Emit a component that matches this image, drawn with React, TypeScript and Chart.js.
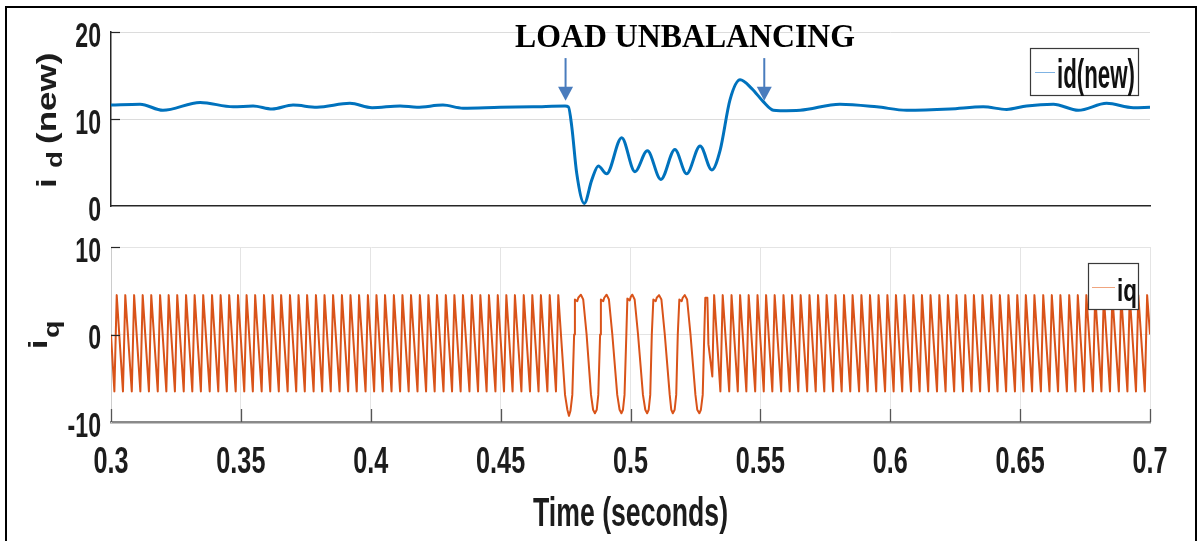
import React, { useEffect, useRef } from 'react';
import { Chart, registerables } from 'chart.js';

Chart.register(...registerables);

// ---- axes ----
const T_MIN = 0.3;
const T_MAX = 0.7;
const xTickValues = [0.3, 0.35, 0.4, 0.45, 0.5, 0.55, 0.6, 0.65, 0.7];
const xTickLabels = ['0.3', '0.35', '0.4', '0.45', '0.5', '0.55', '0.6', '0.65', '0.7'];
const idTickValues = [0, 10, 20];
const idTickLabels = ['0', '10', '20'];
const iqTickValues = [-10, 0, 10];
const iqTickLabels = ['-10', '0', '10'];

// ---- d-axis current (time in ms, current in A) ----
const idTimeMs = [300.0, 311.2, 320.0, 334.3, 347.0, 354.7, 362.0, 370.1, 379.3, 392.0, 400.5, 411.3, 417.8, 427.8,
  435.5, 449.8, 462.5, 474.8, 476.1, 477.4, 479.3, 482.2, 485.1, 487.6, 490.8, 496.6, 501.7, 506.5, 511.7, 517.1,
  521.6, 526.8, 531.3, 534.5, 538.3, 542.2, 546.7, 551.1, 555.0, 557.6, 565.3, 580.6, 594.8, 606.3, 623.0, 635.8,
  644.8, 652.5, 662.8, 672.4, 683.3, 693.6, 700.0];
const idValues = [11.6, 11.7, 11.0, 11.9, 11.4, 11.5, 11.15, 11.6, 11.35, 11.8, 11.3, 11.5, 11.35, 11.6,
  11.25, 11.35, 11.4, 11.5, 11.4, 9.1, 3.75, 0.3, 3.0, 4.6, 3.7, 7.85, 3.95, 6.35, 3.05, 6.5,
  3.7, 6.9, 4.15, 6.4, 12.2, 14.5, 13.5, 12.0, 11.0, 10.95, 11.0, 11.7, 11.4, 11.0, 11.15, 11.4,
  11.1, 11.5, 11.7, 11.0, 11.8, 11.3, 11.35];

// ---- q-axis current ----
const IQ_START = 0;
const IQ_END = 0;
const IQ_CREST = 4.5;
const IQ_VALLEY = -6.5;

// balanced operation before the event
const iqCrestMsBefore = [302.2, 305.5, 308.9, 312.2, 315.5, 318.9, 322.2, 325.5, 328.9, 332.2, 335.5, 338.9, 342.2,
  345.5, 348.9, 352.2, 355.5, 358.9, 362.2, 365.5, 368.9, 372.2, 375.5, 378.9, 382.2, 385.5, 388.9, 392.2, 395.5,
  398.9, 402.2, 405.5, 408.9, 412.2, 415.5, 418.9, 422.2, 425.5, 428.9, 432.2, 435.5, 438.9, 442.2, 445.5, 448.9,
  452.2, 455.5, 458.9, 462.2, 465.5, 468.9, 472.2];
const iqValleyMsBefore = [301.3, 304.6, 308.0, 311.3, 314.6, 318.0, 321.3, 324.6, 328.0, 331.3, 334.6, 338.0, 341.3,
  344.6, 348.0, 351.3, 354.6, 358.0, 361.3, 364.6, 368.0, 371.3, 374.6, 378.0, 381.3, 384.6, 388.0, 391.3, 394.6,
  398.0, 401.3, 404.6, 408.0, 411.3, 414.6, 418.0, 421.3, 424.6, 428.0, 431.3, 434.6, 438.0, 441.3, 444.6, 448.0,
  451.3, 454.6, 458.0, 461.3, 464.6, 468.0, 471.3];

// unbalanced load interval
const iqUnbalancedMs = [
  474.8, 475.7, 476.3, 476.9, 477.6, 478.3, 478.6, 479.5, 479.9, 480.9, 481.8, 483.1,
  484.8, 485.6, 486.3, 487.0, 487.6, 488.3, 488.6, 489.5, 489.9, 490.8, 491.7, 493.0,
  494.9, 495.8, 496.5, 497.1, 497.7, 498.4, 498.8, 499.7, 500.1, 500.7, 501.6, 502.9,
  504.8, 505.7, 506.4, 507.0, 507.6, 508.2, 508.8, 509.7, 510.1, 511.0, 511.9, 513.2,
  515.1, 515.7, 516.3, 517.0, 517.6, 518.2, 518.8, 519.7, 520.1, 520.9, 521.8, 523.1,
  525.0, 525.7, 526.5, 527.1, 527.8, 528.4, 528.8, 529.6, 530.0, 531.5];
const iqUnbalancedValues = [
  -6.9, -8.6, -9.3, -8.7, -6.9, 0.0, 4.0, 3.8, 4.2, 4.55, 4.0, 0.0,
  -6.9, -8.6, -9.0, -8.6, -6.9, 0.0, 4.0, 3.8, 4.2, 4.55, 4.0, 0.0,
  -6.9, -8.6, -9.0, -8.6, -6.9, 0.0, 4.1, 3.9, 4.3, 4.55, 4.0, 0.0,
  -6.9, -8.6, -9.0, -8.6, -6.9, 0.0, 4.0, 3.8, 4.2, 4.5, 4.0, 0.0,
  -6.9, -8.6, -9.0, -8.6, -6.9, 0.0, 4.0, 3.8, 4.2, 4.5, 4.0, 0.0,
  -6.9, -8.6, -9.0, -8.6, -6.9, 0.0, 4.2, 4.2, -1.1, -4.8];

// balanced operation after the event
const iqCrestMsAfter = [532.2, 535.5, 538.9, 542.2, 545.5, 548.9, 552.2, 555.5, 558.9, 562.2, 565.5, 568.9, 572.2,
  575.5, 578.9, 582.2, 585.5, 588.9, 592.2, 595.5, 598.9, 602.2, 605.5, 608.9, 612.2, 615.5, 618.9, 622.2, 625.5,
  628.9, 632.2, 635.5, 638.9, 642.2, 645.5, 648.9, 652.2, 655.5, 658.9, 662.2, 665.5, 668.9, 672.2, 675.5, 678.9,
  682.2, 685.5, 688.9, 692.2, 695.5, 698.9];
const iqValleyMsAfter = [534.6, 538.0, 541.3, 544.6, 548.0, 551.3, 554.6, 558.0, 561.3, 564.6, 568.0, 571.3, 574.6,
  578.0, 581.3, 584.6, 588.0, 591.3, 594.6, 598.0, 601.3, 604.6, 608.0, 611.3, 614.6, 618.0, 621.3, 624.6, 628.0,
  631.3, 634.6, 638.0, 641.3, 644.6, 648.0, 651.3, 654.6, 658.0, 661.3, 664.6, 668.0, 671.3, 674.6, 678.0, 681.3,
  684.6, 688.0, 691.3, 694.6, 698.0];

// ---- annotation ----
const EVENT_LABEL = 'LOAD UNBALANCING';
const EVENT_LABEL_T = 0.521;
const EVENT_LABEL_Y = 18.3;
const eventArrowT = [0.475, 0.5515];
const EVENT_ARROW_TOP = 17.0;
const EVENT_ARROW_TIP = 12.1;

// ---- style ----
const BLUE = '#0072BD';
const ORANGE = '#D95319';
const INK = '#1c1c1c';
const SANS = '"Liberation Sans", Arial, Helvetica, sans-serif';
const SERIF = '"Liberation Serif", "Times New Roman", serif';

type Pt = { x: number; y: number };

function msToS(ms: number) {
  return ms / 1000;
}

function steadyRipple(crests: number[], valleys: number[]): Pt[] {
  const pts: Pt[] = [
    ...crests.map((t) => ({ x: msToS(t), y: IQ_CREST })),
    ...valleys.map((t) => ({ x: msToS(t), y: IQ_VALLEY })),
  ];
  return pts.sort((a, b) => a.x - b.x);
}

function buildIq(): Pt[] {
  const pts: Pt[] = [{ x: T_MIN, y: IQ_START }];
  pts.push(...steadyRipple(iqCrestMsBefore, iqValleyMsBefore));
  iqUnbalancedMs.forEach((t, i) => pts.push({ x: msToS(t), y: iqUnbalancedValues[i] }));
  pts.push(...steadyRipple(iqCrestMsAfter, iqValleyMsAfter));
  pts.push({ x: T_MAX, y: IQ_END });
  return pts;
}

function buildId(): Pt[] {
  return idTimeMs.map((t, i) => ({ x: msToS(t), y: idValues[i] }));
}

function squeezed(ctx: CanvasRenderingContext2D, text: string, x: number, y: number, font: string, sx: number,
  align: CanvasTextAlign, color = INK) {
  ctx.save();
  ctx.font = font;
  ctx.fillStyle = color;
  ctx.textAlign = align;
  ctx.textBaseline = 'alphabetic';
  ctx.translate(x, y);
  ctx.scale(sx, 1);
  ctx.fillText(text, 0, 0);
  ctx.restore();
}

function fitScale(ctx: CanvasRenderingContext2D, text: string, font: string, width: number) {
  ctx.save();
  ctx.font = font;
  const w = ctx.measureText(text).width;
  ctx.restore();
  return w > 0 ? width / w : 1;
}

// rotated (bottom-to-top) text piece
function upright(ctx: CanvasRenderingContext2D, text: string, baseX: number, startY: number, size: number, stretch: number) {
  ctx.save();
  ctx.translate(baseX, startY);
  ctx.rotate(-Math.PI / 2);
  ctx.scale(stretch, 1);
  ctx.font = `bold ${size}px ${SANS}`;
  ctx.fillStyle = INK;
  ctx.textAlign = 'left';
  ctx.textBaseline = 'alphabetic';
  ctx.fillText(text, 0, 0);
  ctx.restore();
}

function yTickMarks(ctx: CanvasRenderingContext2D, chart: any, values: number[]) {
  const y = chart.scales.y;
  const left = chart.chartArea.left;
  ctx.save();
  ctx.strokeStyle = '#262626';
  ctx.lineWidth = 1.2;
  values.forEach((v) => {
    const py = Math.round(y.getPixelForValue(v)) + 0.5;
    ctx.beginPath();
    ctx.moveTo(left, py);
    ctx.lineTo(left + 9, py);
    ctx.stroke();
  });
  ctx.restore();
}

function yTickLabels(ctx: CanvasRenderingContext2D, chart: any, values: number[], labels: string[]) {
  const y = chart.scales.y;
  const font = `bold 35px ${SANS}`;
  values.forEach((v, i) => {
    squeezed(ctx, labels[i], chart.chartArea.left - 10, y.getPixelForValue(v) + 14.5, font, 0.66, 'right');
  });
}

function legendBox(ctx: CanvasRenderingContext2D, x: number, y: number, w: number, h: number, lineColor: string,
  lineX0: number, lineX1: number, lineY: number, text: string, textX: number, textY: number, size: number, textW: number) {
  ctx.save();
  ctx.fillStyle = '#ffffff';
  ctx.fillRect(x, y, w, h);
  ctx.strokeStyle = '#3a3a3a';
  ctx.lineWidth = 1.2;
  ctx.strokeRect(x + 0.5, y + 0.5, w, h);
  ctx.strokeStyle = lineColor;
  ctx.lineWidth = 1;
  ctx.beginPath();
  ctx.moveTo(lineX0, lineY + 0.5);
  ctx.lineTo(lineX1, lineY + 0.5);
  ctx.stroke();
  ctx.restore();
  const font = `bold ${size}px ${SANS}`;
  squeezed(ctx, text, textX, textY, font, fitScale(ctx, text, font, textW), 'left', '#111');
}

const topDecor = {
  id: 'topDecor',
  afterDraw(chart: any) {
    const ctx: CanvasRenderingContext2D = chart.ctx;
    const xs = chart.scales.x;
    const ys = chart.scales.y;
    yTickMarks(ctx, chart, [10, 20]);
    yTickLabels(ctx, chart, idTickValues, idTickLabels);

    // y title: i_d(new)
    upright(ctx, 'i', 56, 188, 28, 1.25);
    upright(ctx, 'd', 62, 168, 22, 1.25);
    upright(ctx, '(new)', 56, 144, 28, 1.25);

    // event arrows
    ctx.save();
    ctx.fillStyle = '#4a7cbd';
    ctx.strokeStyle = '#4a7cbd';
    ctx.lineWidth = 2;
    eventArrowT.forEach((t) => {
      const px = xs.getPixelForValue(t);
      const top = ys.getPixelForValue(EVENT_ARROW_TOP);
      const tip = ys.getPixelForValue(EVENT_ARROW_TIP);
      ctx.beginPath();
      ctx.moveTo(px, top);
      ctx.lineTo(px, tip - 13);
      ctx.stroke();
      ctx.beginPath();
      ctx.moveTo(px - 7.5, tip - 14);
      ctx.lineTo(px + 7.5, tip - 14);
      ctx.lineTo(px, tip);
      ctx.closePath();
      ctx.fill();
    });
    ctx.restore();

    const serif = `bold 33px ${SERIF}`;
    squeezed(ctx, EVENT_LABEL, xs.getPixelForValue(EVENT_LABEL_T), ys.getPixelForValue(EVENT_LABEL_Y), serif,
      fitScale(ctx, EVENT_LABEL, serif, 340), 'center', '#000');

    legendBox(ctx, 1030, 48, 108, 47, '#7fb3e3', 1035, 1055, 72, 'id(new)', 1057, 88, 40, 78);
  },
};

const bottomDecor = {
  id: 'bottomDecor',
  afterDraw(chart: any) {
    const ctx: CanvasRenderingContext2D = chart.ctx;
    const xs = chart.scales.x;
    const area = chart.chartArea;
    yTickMarks(ctx, chart, [0, 10]);
    yTickLabels(ctx, chart, iqTickValues, iqTickLabels);

    // x tick marks, pointing into the plot
    ctx.save();
    ctx.strokeStyle = '#555555';
    ctx.lineWidth = 1.3;
    xTickValues.forEach((v) => {
      const px = Math.round(xs.getPixelForValue(v)) + 0.5;
      ctx.beginPath();
      ctx.moveTo(px, area.bottom);
      ctx.lineTo(px, area.bottom - 13);
      ctx.stroke();
    });
    ctx.restore();

    const tickFont = `bold 36px ${SANS}`;
    xTickValues.forEach((v, i) => {
      squeezed(ctx, xTickLabels[i], xs.getPixelForValue(v), area.bottom + 51, tickFont, 0.7, 'center');
    });

    const titleFont = `bold 40px ${SANS}`;
    squeezed(ctx, 'Time (seconds)', (area.left + area.right) / 2, area.bottom + 104, titleFont,
      fitScale(ctx, 'Time (seconds)', titleFont, 195), 'center');

    // y title: i_q
    upright(ctx, 'i', 47, 349, 26, 1.3);
    upright(ctx, 'q', 59, 338, 22, 1.3);

    legendBox(ctx, 1088, 263, 50, 46, '#f0a57f', 1092, 1115, 287, 'iq', 1117, 301, 32, 20);
  },
};

function ticksFrom(values: number[]) {
  return (scale: any) => {
    scale.ticks = values.map((value) => ({ value }));
  };
}

function topConfig(): any {
  return {
    type: 'line',
    data: {
      datasets: [{
        label: 'id(new)',
        data: buildId(),
        borderColor: BLUE,
        borderWidth: 3,
        pointRadius: 0,
        cubicInterpolationMode: 'monotone',
        borderJoinStyle: 'round',
        fill: false,
      }],
    },
    options: {
      responsive: false,
      animation: false,
      events: [],
      layout: { padding: { left: 0, top: 32, right: 51, bottom: 335 } },
      plugins: { legend: { display: false }, tooltip: { enabled: false } },
      scales: {
        x: {
          type: 'linear', min: T_MIN, max: T_MAX,
          ticks: { display: false },
          grid: { display: false },
          border: { display: true, color: '#262626', width: 1.5 },
          afterBuildTicks: ticksFrom(xTickValues),
          afterFit: (s: any) => { s.height = 0; },
        },
        y: {
          type: 'linear', min: 0, max: 20,
          ticks: { display: false },
          grid: {
            drawTicks: false,
            lineWidth: 1,
            color: (c: any) => (c.tick && c.tick.value === 0 ? 'rgba(0,0,0,0)' : '#dcdcdc'),
          },
          border: { display: true, color: '#262626', width: 1.5 },
          afterBuildTicks: ticksFrom(idTickValues),
          afterFit: (s: any) => { s.width = 111; },
        },
      },
    },
    plugins: [topDecor],
  };
}

function bottomConfig(): any {
  return {
    type: 'line',
    data: {
      datasets: [{
        label: 'iq',
        data: buildIq(),
        borderColor: ORANGE,
        borderWidth: 2,
        pointRadius: 0,
        tension: 0,
        borderJoinStyle: 'round',
        fill: false,
      }],
    },
    options: {
      responsive: false,
      animation: false,
      events: [],
      layout: { padding: { left: 0, top: 247, right: 51, bottom: 119 } },
      plugins: { legend: { display: false }, tooltip: { enabled: false } },
      scales: {
        x: {
          type: 'linear', min: T_MIN, max: T_MAX,
          ticks: { display: false },
          grid: { drawTicks: false, color: '#e4e4e4', lineWidth: 1 },
          border: { display: true, color: '#8a8a8a', width: 2.5 },
          afterBuildTicks: ticksFrom(xTickValues),
          afterFit: (s: any) => { s.height = 0; },
        },
        y: {
          type: 'linear', min: -10, max: 10,
          ticks: { display: false },
          grid: { drawTicks: false, color: '#e4e4e4', lineWidth: 1 },
          border: { display: true, color: '#cccccc', width: 1 },
          afterBuildTicks: ticksFrom(iqTickValues),
          afterFit: (s: any) => { s.width = 111; },
        },
      },
    },
    plugins: [bottomDecor],
  };
}

export default function App() {
  const topRef = useRef<HTMLCanvasElement>(null);
  const bottomRef = useRef<HTMLCanvasElement>(null);

  useEffect(() => {
    const top = new Chart(topRef.current as HTMLCanvasElement, topConfig());
    const bottom = new Chart(bottomRef.current as HTMLCanvasElement, bottomConfig());
    return () => {
      top.destroy();
      bottom.destroy();
    };
  }, []);

  const layer: React.CSSProperties = { position: 'absolute', left: 0, top: 0, width: 1201, height: 541 };

  return (
    <div style={{ position: 'absolute', left: 0, top: 0, width: 1201, height: 541, overflow: 'hidden', background: '#ffffff' }}>
      <div style={{ position: 'absolute', left: 5, top: 6, width: 1192, height: 600, border: '2px solid #000', boxSizing: 'border-box' }} />
      <canvas ref={topRef} width={1201} height={541} style={layer} />
      <canvas ref={bottomRef} width={1201} height={541} style={layer} />
    </div>
  );
}
